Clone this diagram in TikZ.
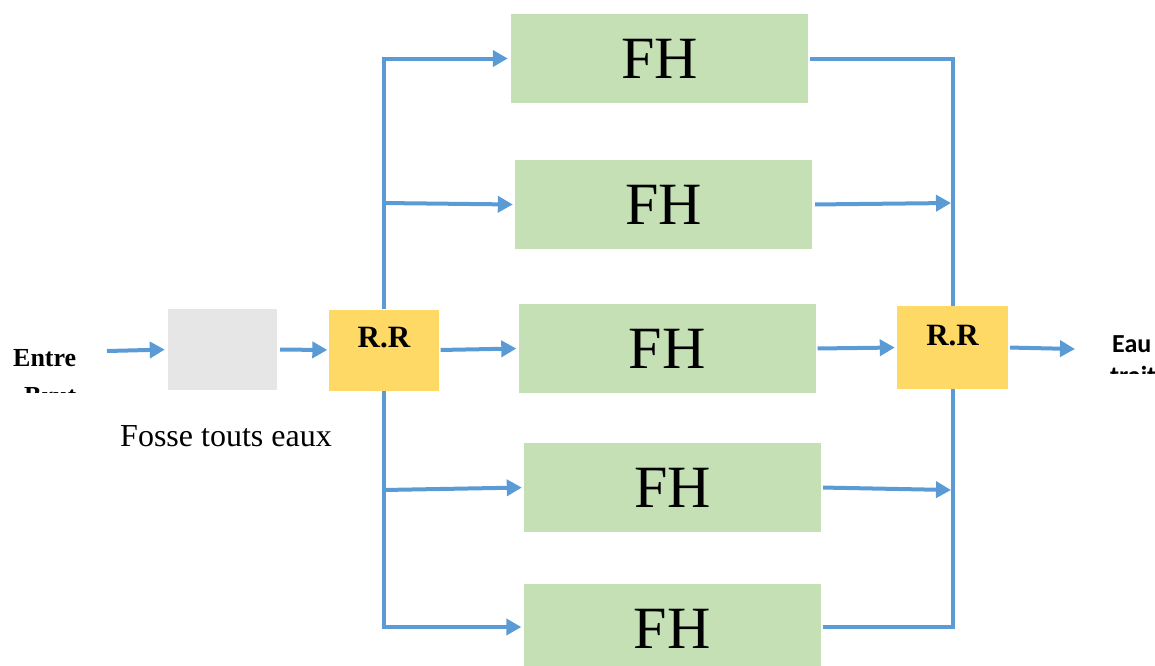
\documentclass[tikz,border=0pt]{standalone}
\usepackage{fontspec}
\setmainfont{Liberation Serif}
\newfontfamily\calib{Carlito}
\usetikzlibrary{arrows.meta}
\definecolor{flowblue}{HTML}{5B9BD5}
\definecolor{filtgreen}{HTML}{C5E0B4}
\definecolor{rryellow}{HTML}{FFD966}
\definecolor{fossegray}{HTML}{E6E6E6}
\tikzset{
  flow/.style={draw=flowblue, line width=4pt},
  flowarrow/.style={flow, -{Triangle[length=15pt,width=16pt]}},
  filterbox/.style={rectangle, fill=filtgreen, minimum width=297pt, minimum height=89pt,
    inner sep=0pt, font=\fontsize{60}{60}\selectfont},
  rrbox/.style={rectangle, fill=rryellow, inner sep=0pt},
  rrtext/.style={font=\bfseries\fontsize{31}{31}\selectfont},
}
\begin{document}
\begin{tikzpicture}[x=1pt, y=-1pt]
\useasboundingbox (0,0) rectangle (1155,665);

% treatment units
\node[rectangle, fill=fossegray, minimum width=109pt, minimum height=81pt, inner sep=0pt] (fosse) at (222.5,349.5) {};
\node[rrbox, minimum width=110pt, minimum height=81pt] (rr1) at (383.5,350) {};
\node[rrbox, minimum width=111pt, minimum height=83pt] (rr2) at (952.5,347.5) {};
\node[rrtext] (rr1t) at (384,338) {R.R};
\node[rrtext] (rr2t) at (952.5,336) {R.R};

\node[filterbox] (fh1) at (659.5,58.5) {FH};
\node[filterbox] (fh2) at (663.5,204.5) {FH};
\node[filterbox] (fh3) at (667,348.5) {FH};
\node[filterbox] (fh4) at (672.5,487.5) {FH};
\node[filterbox] (fh5) at (672,628.5) {FH};

\node[anchor=base, font=\fontsize{32}{32}\selectfont] (fosselbl) at (226,446) {Fosse touts eaux};

% inlet and outlet labels, cut off below the first line
\begin{scope}
  \clip (0,330) rectangle (100,392);
  \node[anchor=base west, inner sep=0pt, font=\bfseries\fontsize{26}{26}\selectfont] (inlbl) at (13,366) {Entre};
  \node[anchor=base west, inner sep=0pt, font=\bfseries\fontsize{26}{26}\selectfont] (inlbl2) at (24,404) {Brut};
\end{scope}
\begin{scope}
  \clip (1090,320) rectangle (1155,373);
  \node[anchor=base west, inner sep=0pt, font=\calib\bfseries\fontsize{26}{26}\selectfont] (outlbl) at (1112,352) {Eau};
  \node[anchor=base west, inner sep=0pt, font=\calib\bfseries\fontsize{26}{26}\selectfont] (outlbl2) at (1110,384) {traitée};
\end{scope}

% junction points
\coordinate (in) at (107,351);
\coordinate (out) at (1075,349);
\coordinate (j2) at (383,203);
\coordinate (j4) at (383,490);
\coordinate (k2) at (951,203);
\coordinate (k4) at (951,490);

% distribution side
\draw[flowarrow, shorten >=3pt] (in) -- (fosse.west);
\draw[flowarrow, shorten <=3pt, shorten >=1pt] (fosse.east) -- (rr1.west);
\draw[flowarrow, shorten >=3pt] (rr1.north) |- (fh1.west);
\draw[flowarrow, shorten >=2pt] (j2) -- (fh2.west);
\draw[flowarrow, shorten <=2pt, shorten >=2pt] (rr1.east) -- (fh3.west);
\draw[flowarrow, shorten >=2pt] (j4) -- (fh4.west);
\draw[flowarrow, shorten >=2pt] (rr1.south) |- ([yshift=1.5pt]fh5.west);

% collection side
\draw[flow, shorten <=2pt] (fh1.east) -| (rr2.north);
\draw[flowarrow, shorten <=3pt] (fh2.east) -- (k2);
\draw[flowarrow, shorten <=2pt, shorten >=2pt] (fh3.east) -- (rr2.west);
\draw[flowarrow, shorten <=2pt] (fh4.east) -- (k4);
\draw[flow, shorten <=2pt] ([yshift=1.5pt]fh5.east) -| (rr2.south);
\draw[flowarrow, shorten <=2pt] (rr2.east) -- (out);
\end{tikzpicture}
\end{document}
